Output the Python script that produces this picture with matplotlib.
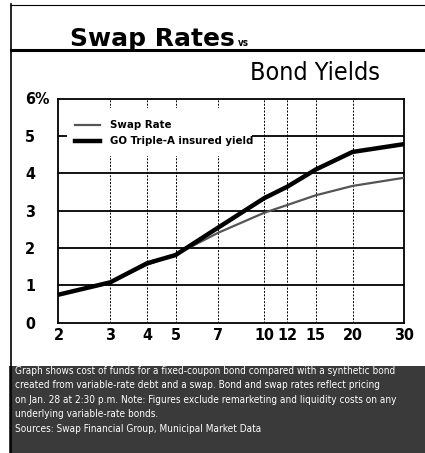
import matplotlib
matplotlib.use("Agg")
import matplotlib.pyplot as plt
from matplotlib.patches import Rectangle
from matplotlib.ticker import FixedLocator, NullLocator

plt.rcParams["font.family"] = ["DejaVu Sans"]
plt.rcParams["font.stretch"] = "condensed"

# ----
# Data
# ----

maturity = [2, 3, 4, 5, 7, 10, 12, 15, 20, 30]
swap_rate = [0.75, 1.08, 1.55, 1.82, 2.41, 2.94, 3.15, 3.41, 3.66, 3.88]
go_yield = [0.75, 1.08, 1.59, 1.81, 2.55, 3.33, 3.64, 4.10, 4.57, 4.78]
x_ticks = [2, 3, 4, 5, 7, 10, 12, 15, 20, 30]
y_ticks = [0, 1, 2, 3, 4, 5, 6]
y_labels = ["0", "1", "2", "3", "4", "5", "6%"]
note = ("Graph shows cost of funds for a fixed-coupon bond compared with a synthetic bond\n"
        "created from variable-rate debt and a swap. Bond and swap rates reflect pricing\n"
        "on Jan. 28 at 2:30 p.m. Note: Figures exclude remarketing and liquidity costs on any\n"
        "underlying variable-rate bonds.\n"
        "Sources: Swap Financial Group, Municipal Market Data")

W, H = 425, 453
fig = plt.figure(figsize=(W / 100, H / 100), dpi=100)


def fx(px):
    return px / W


def fy(py):
    return 1 - py / H


# outer frame and title rule
fig.add_artist(plt.Line2D([fx(11), fx(11)], [fy(4), fy(453)], color="black", lw=1.2))
fig.add_artist(plt.Line2D([fx(11), fx(425)], [fy(5), fy(5)], color="black", lw=0.8))
fig.add_artist(plt.Line2D([fx(11), fx(425)], [fy(50), fy(50)], color="black", lw=2.2))

fig.text(fx(70), fy(46), "Swap Rates", fontsize=18, fontweight="bold", fontstretch="normal",
         va="baseline")
fig.text(fx(238), fy(46), "vs", fontsize=7, fontweight="bold", va="baseline")
fig.text(fx(250), fy(80), "Bond Yields", fontsize=18, va="baseline")

# bottom note box
fig.add_artist(Rectangle((fx(9), 0), fx(425 - 9), fy(366), transform=fig.transFigure,
                         facecolor="#3a3a3a", edgecolor="none"))
fig.text(fx(15), fy(366), note, fontsize=7.2, color="white", va="top", linespacing=1.55)

# chart
ax = fig.add_axes([fx(58.5), fy(322.7), fx(345.8), fy(98.5) - fy(322.7)])
ax.set_xscale("log")
ax.set_xlim(2, 30)
ax.set_ylim(0, 6)

for y in y_ticks[1:-1]:
    ax.axhline(y, color="black", lw=1.3, zorder=1)
for x in x_ticks[1:-1]:
    ax.axvline(x, color="black", lw=0.7, ls=(0, (2, 1.5)), zorder=1)

# legend area masks the grid
ax.add_patch(Rectangle((2.13, 4.45), 6.97, 1.3, facecolor="white", edgecolor="none", zorder=2))

ax.plot(maturity, swap_rate, color="#555555", lw=1.6, zorder=3)
ax.plot(maturity, go_yield, color="black", lw=3.2, zorder=4)

ax.plot([2.28, 2.77], [5.3, 5.3], color="#555555", lw=1.6, zorder=3)
ax.plot([2.28, 2.77], [4.85, 4.85], color="black", lw=3.2, zorder=3)
ax.text(2.99, 5.3, "Swap Rate", fontsize=8.2, fontweight="bold", va="center", zorder=3)
ax.text(2.99, 4.85, "GO Triple-A insured yield", fontsize=8.2, fontweight="bold",
        va="center", zorder=3)

ax.xaxis.set_major_locator(FixedLocator(x_ticks))
ax.xaxis.set_minor_locator(NullLocator())
ax.set_xticklabels([str(v) for v in x_ticks], fontsize=11.5, fontweight="bold")
ax.set_yticks(y_ticks)
ax.set_yticklabels(y_labels, fontsize=11.5, fontweight="bold", ha="left")
ax.tick_params(axis="x", length=0, pad=4)
ax.tick_params(axis="y", length=0, pad=24)
for s in ax.spines.values():
    s.set_linewidth(1.3)

fig.savefig("out.png", dpi=100)
